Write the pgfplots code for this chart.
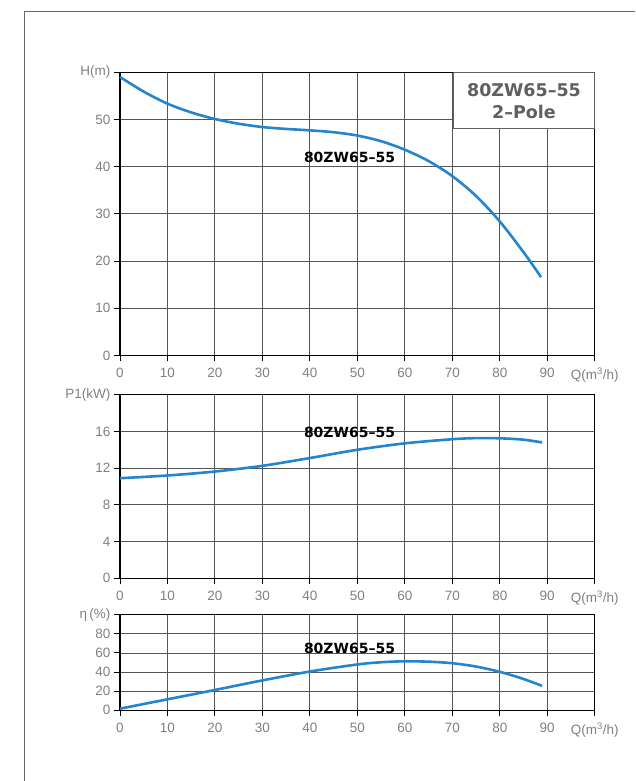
\documentclass[border=0pt]{standalone}
\usepackage{fontspec}
\setmainfont{Liberation Sans}
\newfontfamily\djb{DejaVu Sans}
\usepackage{pgfplots}
\pgfplotsset{compat=1.18}
\definecolor{curve}{RGB}{36,132,206}
\definecolor{tickgray}{RGB}{128,128,128}
\definecolor{gridgray}{RGB}{85,85,85}
\definecolor{boxgray}{RGB}{95,95,95}
\definecolor{framegray}{RGB}{105,105,105}
\pgfplotsset{pump/.style={
  scale only axis, width=474.7pt,
  xmin=0, xmax=100,
  xtick={0,10,...,100},
  xticklabels={0,10,20,30,40,50,60,70,80,90,{Q(m\textsuperscript{3}/h)}},
  grid=major,
  major grid style={gridgray, line width=0.9pt},
  axis line style={black, line width=1.4pt},
  tick align=outside, major tick length=6pt,
  tick style={black, line width=1pt},
  tick pos=left,
  ticklabel style={font=\fontsize{13.5}{16}\selectfont, text=tickgray},
  xticklabel style={yshift=-3pt},
  clip=false,
}}
\newcommand{\lbl}{\djb\bfseries\fontsize{14}{16}\selectfont 80ZW65–55}
\begin{document}
\begin{tikzpicture}
\useasboundingbox (0,0) rectangle (635pt,781pt);
\draw[framegray, line width=1.2pt] (24.5pt,0) -- (24.5pt,769.5pt) -- (635pt,769.5pt);
% top: H
\begin{axis}[pump, at={(120pt,425.5pt)}, anchor=south west, height=283.2pt,
  ymin=0, ymax=60, ytick={0,10,...,60},
  yticklabels={0,10,20,30,40,50,{H(m)}}]
\addplot[curve, line width=2.6pt, smooth] coordinates {
(0,59.0) (5,55.9) (10,53.35) (15,51.5) (20,50.1) (25,49.1) (30,48.4) (35,48.0)
(40,47.7) (45,47.3) (50,46.6) (55,45.4) (60,43.6) (65,41.2) (70,38.0) (75,33.8)
(80,28.4) (85,21.9) (88.7,16.6)};
\draw[boxgray, line width=1.4pt, fill=white] (axis cs:70.2,48.1) rectangle (axis cs:100,60);
\node[text=boxgray, font=\djb\bfseries\fontsize{17.5}{20}\selectfont] at (axis cs:85.1,56.2) {80ZW65–55};
\node[text=boxgray, font=\djb\bfseries\fontsize{17.5}{20}\selectfont] at (axis cs:85.1,51.5) {2–Pole};
\node at (axis cs:48.35,42.0) {\lbl};
\end{axis}
% middle: P1
\begin{axis}[pump, at={(120pt,202.7pt)}, anchor=south west, height=183.6pt,
  ymin=0, ymax=20, ytick={0,4,...,20},
  yticklabels={0,4,8,12,16,{P1(kW)}}]
\addplot[curve, line width=2.6pt, smooth] coordinates {
(0,10.9) (10,11.2) (20,11.63) (30,12.25) (40,13.1) (50,14.0) (60,14.7)
(70,15.15) (75,15.27) (80,15.25) (85,15.1) (88.9,14.8)};
\node at (axis cs:48.35,15.9) {\lbl};
\end{axis}
% bottom: efficiency
\begin{axis}[pump, at={(120pt,70.7pt)}, anchor=south west, height=95.5pt,
  ymin=0, ymax=100, ytick={0,20,...,100},
  yticklabels={0,20,40,60,80,{η\,(\%)}}]
\addplot[curve, line width=2.6pt, smooth] coordinates {
(0,1.7) (10,11.5) (20,21.3) (30,31.3) (40,40.6) (50,48.0) (55,50.3) (60,51.3)
(65,50.9) (70,49.3) (75,45.8) (80,40.3) (85,32.8) (88.9,25.6)};
\node at (axis cs:48.35,64.9) {\lbl};
\end{axis}
\end{tikzpicture}
\end{document}
